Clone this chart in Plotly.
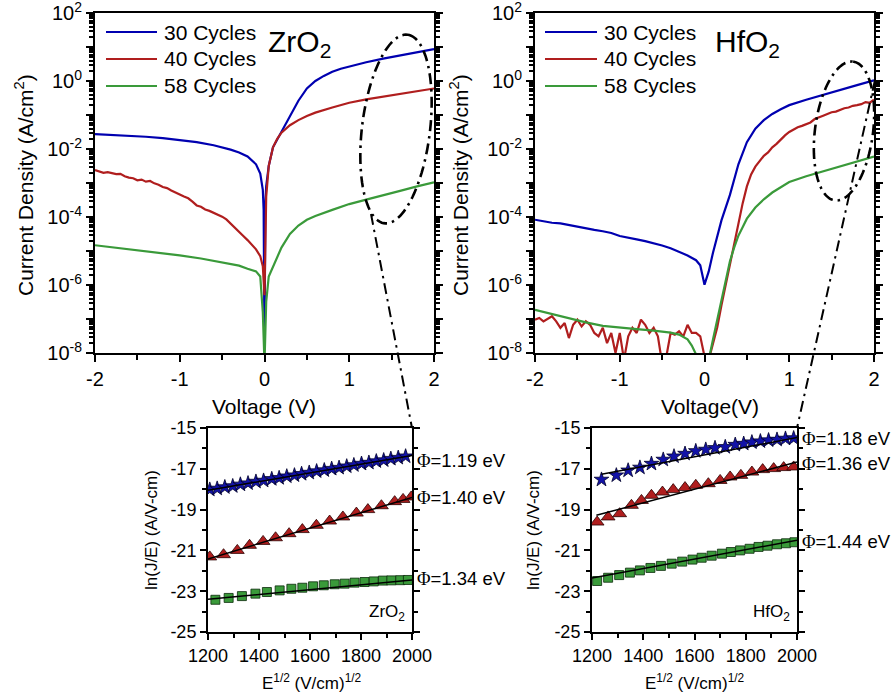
import numpy as np
import plotly.graph_objects as go

W, H = 896, 698
FONT = "Liberation Sans, Arial, sans-serif"

# ---------------- J-V curves: voltage (V) and log10 J (A/cm^2) ----------------
# ZrO2
zr30_v = [-2.0, -1.8, -1.6, -1.4, -1.2, -1.0, -0.8, -0.6, -0.5, -0.4, -0.3, -0.2, -0.1, -0.05,
          -0.02, -0.01, 0.0, 0.01, 0.02, 0.05, 0.1, 0.15, 0.2, 0.3, 0.4, 0.5, 0.6, 0.7, 0.8, 0.9,
          1.0, 1.2, 1.4, 1.6, 1.8, 2.0]
zr30_logj = [-1.56, -1.58, -1.61, -1.64, -1.68, -1.74, -1.80, -1.89, -1.95, -2.02, -2.10, -2.22,
             -2.45, -2.72, -3.2, -3.8, -7.9, -3.6, -3.1, -2.5, -1.95, -1.72, -1.5, -1.05, -0.58,
             -0.22, 0.0, 0.15, 0.27, 0.36, 0.43, 0.55, 0.66, 0.76, 0.85, 0.94]

zr40_v = [-2.0, -1.95, -1.9, -1.85, -1.8, -1.75, -1.7, -1.65, -1.6, -1.55, -1.5, -1.45, -1.4,
          -1.35, -1.3, -1.25, -1.2, -1.15, -1.1, -1.05, -1.0, -0.95, -0.9, -0.85, -0.8, -0.75,
          -0.7, -0.65, -0.6, -0.55, -0.5, -0.45, -0.4, -0.35, -0.3, -0.25, -0.2, -0.15, -0.1,
          -0.05, -0.02, 0.0, 0.01, 0.02, 0.05, 0.1, 0.15, 0.2, 0.3, 0.4, 0.5, 0.6, 0.8, 1.0,
          1.2, 1.4, 1.6, 1.8, 2.0]
zr40_logj = [-2.62, -2.66, -2.70, -2.68, -2.72, -2.74, -2.73, -2.80, -2.84, -2.86, -2.92, -2.90,
             -2.96, -2.94, -3.01, -3.05, -3.12, -3.15, -3.22, -3.27, -3.34, -3.40, -3.45, -3.55,
             -3.66, -3.70, -3.78, -3.82, -3.88, -3.92, -3.99, -4.07, -4.20, -4.30, -4.46, -4.56,
             -4.68, -4.82, -4.95, -5.15, -5.45, -6.30, -4.6, -3.4, -2.5, -1.95, -1.7, -1.52,
             -1.3, -1.15, -1.03, -0.93, -0.78, -0.64, -0.54, -0.46, -0.38, -0.30, -0.22]

zr58_v = [-2.0, -1.5, -1.0, -0.75, -0.5, -0.3, -0.2, -0.1, -0.05, -0.02, 0.0, 0.02, 0.05, 0.1,
          0.15, 0.2, 0.3, 0.4, 0.5, 0.6, 0.8, 1.0, 1.2, 1.4, 1.6, 1.8, 2.0]
zr58_logj = [-4.83, -4.97, -5.13, -5.22, -5.33, -5.43, -5.52, -5.60, -5.75, -6.8, -8.3, -6.5,
             -5.75, -5.45, -5.15, -4.9, -4.5, -4.25, -4.08, -3.97, -3.79, -3.62, -3.49, -3.37,
             -3.23, -3.10, -2.98]

# HfO2
hf30_v = [-2.0, -1.9, -1.8, -1.7, -1.6, -1.5, -1.4, -1.3, -1.2, -1.1, -1.0, -0.9, -0.8, -0.7,
          -0.6, -0.5, -0.4, -0.3, -0.2, -0.1, -0.05, 0.0, 0.05, 0.1, 0.15, 0.2, 0.3, 0.4, 0.5,
          0.6, 0.7, 0.8, 0.9, 1.0, 1.2, 1.4, 1.6, 1.8, 2.0]
hf30_logj = [-4.08, -4.13, -4.17, -4.19, -4.24, -4.30, -4.33, -4.38, -4.42, -4.47, -4.56, -4.60,
             -4.66, -4.71, -4.77, -4.84, -4.92, -5.02, -5.13, -5.27, -5.42, -5.99, -5.6, -5.05,
             -4.6, -4.1, -3.35, -2.45, -1.8, -1.4, -1.15, -0.97, -0.83, -0.71, -0.55, -0.40,
             -0.26, -0.12, 0.02]

hf40_v = [-2.0, -1.95, -1.9, -1.85, -1.8, -1.75, -1.7, -1.65, -1.6, -1.55, -1.5, -1.45, -1.4,
          -1.35, -1.3, -1.25, -1.2, -1.15, -1.1, -1.05, -1.0, -0.95, -0.9, -0.85, -0.8, -0.75,
          -0.7, -0.65, -0.6, -0.55, -0.5, -0.45, -0.4, -0.35, -0.3, -0.25, -0.2, -0.15, -0.1,
          -0.05, 0.0, 0.05, 0.1, 0.15, 0.2, 0.25, 0.3, 0.35, 0.4, 0.45, 0.5, 0.55, 0.6, 0.65,
          0.7, 0.75, 0.8, 0.85, 0.9, 0.95, 1.0, 1.05, 1.1, 1.15, 1.2, 1.25, 1.3, 1.35, 1.4, 1.45,
          1.5, 1.55, 1.6, 1.65, 1.7, 1.75, 1.8, 1.85, 1.9, 1.95, 2.0]
hf40_logj = [-7.02, -6.97, -7.07, -7.00, -6.92, -7.07, -7.26, -7.12, -7.56, -7.17, -7.02, -7.22,
             -7.07, -7.17, -7.41, -7.51, -7.26, -7.71, -7.41, -8.00, -7.41, -8.20, -7.51, -7.26,
             -7.41, -7.02, -7.17, -7.41, -7.26, -7.51, -8.30, -8.10, -7.41, -7.46, -7.36, -7.51,
             -7.17, -7.41, -7.41, -7.51, -8.10, -8.20, -7.75, -7.25, -6.6, -6.0, -5.4, -4.75,
             -4.15, -3.6, -3.1, -2.75, -2.52, -2.36, -2.2, -2.1, -1.95, -1.85, -1.72, -1.6, -1.5,
             -1.42, -1.36, -1.32, -1.26, -1.22, -1.12, -1.08, -1.02, -0.97, -0.92, -0.90, -0.84,
             -0.80, -0.78, -0.73, -0.71, -0.68, -0.62, -0.64, -0.55]

hf58_v = [-2.0, -1.8, -1.6, -1.4, -1.2, -1.0, -0.8, -0.6, -0.4, -0.3, -0.2, -0.15, -0.1, -0.05,
          0.0, 0.05, 0.1, 0.2, 0.3, 0.35, 0.4, 0.45, 0.5, 0.6, 0.7, 0.8, 0.9, 1.0, 1.2, 1.4,
          1.6, 1.8, 2.0]
hf58_logj = [-6.73, -6.86, -6.98, -7.10, -7.20, -7.26, -7.30, -7.34, -7.40, -7.46, -7.60, -7.78,
             -8.05, -8.3, -8.5, -8.2, -7.6, -6.45, -5.3, -4.9, -4.55, -4.3, -4.05, -3.72, -3.48,
             -3.28, -3.12, -2.97, -2.80, -2.66, -2.52, -2.38, -2.22]

# ---------------- Schottky plots: E^1/2 vs ln(J/E) ----------------
zr_star_x = [1207, 1236, 1266, 1297, 1327, 1357, 1388, 1418, 1450, 1479, 1509, 1539, 1567, 1597,
             1626, 1656, 1685, 1714, 1744, 1772, 1802, 1831, 1860, 1889, 1917, 1946, 1975]
zr_star_y = [-18.02, -17.97, -17.90, -17.85, -17.77, -17.71, -17.63, -17.58, -17.50, -17.45,
             -17.37, -17.32, -17.25, -17.19, -17.12, -17.07, -17.00, -16.95, -16.88, -16.82,
             -16.75, -16.70, -16.63, -16.58, -16.51, -16.46, -16.39]
zr_tri_x = [1207, 1261, 1315, 1363, 1416, 1465, 1518, 1570, 1625, 1677, 1729, 1782, 1827, 1880,
            1932, 1965, 1997]
zr_tri_y = [-21.32, -21.21, -21.00, -20.75, -20.56, -20.38, -20.18, -19.98, -19.77, -19.56,
            -19.36, -19.17, -19.00, -18.81, -18.61, -18.50, -18.38]
zr_sq_x = [1229, 1281, 1333, 1386, 1431, 1481, 1527, 1570, 1612, 1654, 1697, 1736, 1775, 1814,
           1850, 1886, 1919, 1954, 1984]
zr_sq_y = [-23.42, -23.33, -23.24, -23.12, -23.04, -22.96, -22.88, -22.83, -22.76, -22.71,
           -22.66, -22.63, -22.58, -22.55, -22.52, -22.48, -22.47, -22.46, -22.45]

hf_star_x = [1237, 1295, 1341, 1387, 1432, 1478, 1520, 1563, 1605, 1644, 1680, 1720, 1759, 1792,
             1824, 1857, 1889, 1922, 1955, 1987]
hf_star_y = [-17.53, -17.32, -17.08, -16.94, -16.75, -16.55, -16.39, -16.26, -16.13, -16.06,
             -15.98, -15.93, -15.82, -15.77, -15.70, -15.65, -15.60, -15.57, -15.52, -15.50]
hf_tri_x = [1220, 1263, 1308, 1354, 1393, 1432, 1475, 1517, 1563, 1605, 1654, 1700, 1739, 1781,
            1824, 1866, 1909, 1948, 1987]
hf_tri_y = [-19.61, -19.36, -19.20, -18.79, -18.55, -18.30, -18.14, -18.02, -17.92, -17.81,
            -17.73, -17.57, -17.40, -17.32, -17.16, -17.04, -16.99, -16.94, -16.91]
hf_sq_x = [1220, 1263, 1306, 1348, 1387, 1428, 1469, 1511, 1552, 1592, 1628, 1667, 1707, 1742,
           1778, 1815, 1850, 1885, 1922, 1957, 1990]
hf_sq_y = [-22.50, -22.34, -22.21, -22.09, -21.98, -21.86, -21.76, -21.65, -21.55, -21.45,
           -21.36, -21.26, -21.16, -21.08, -21.00, -20.92, -20.83, -20.77, -20.70, -20.65, -20.60]

# Linear Schottky fits (end points)
zr_fit_x = {"star": [1200, 2000], "tri": [1200, 2000], "sq": [1200, 2000]}
zr_fit_y = {"star": [-18.05, -16.35], "tri": [-21.42, -18.40], "sq": [-23.40, -22.45]}
hf_fit_x = {"star": [1237, 2000], "tri": [1217, 2000], "sq": [1200, 2000]}
hf_fit_y = {"star": [-17.27, -15.47], "tri": [-19.28, -16.67], "sq": [-22.35, -20.50]}

barrier_zr = ["1.19", "1.40", "1.34"]
barrier_hf = ["1.18", "1.36", "1.44"]
cycle_labels = ["30 Cycles", "40 Cycles", "58 Cycles"]

BLUE, RED, GREEN = "#0000b0", "#b01e1e", "#3a9a3a"
SERIES_COLORS = [BLUE, RED, GREEN]


def px(x):
    return x / W


def py(y):
    return 1 - y / H


fig = go.Figure()

# ---- J-V traces ----
for (v, lj, col, name, xa, ya) in [
    (zr30_v, zr30_logj, BLUE, cycle_labels[0], "x", "y"),
    (zr40_v, zr40_logj, RED, cycle_labels[1], "x", "y"),
    (zr58_v, zr58_logj, GREEN, cycle_labels[2], "x", "y"),
    (hf30_v, hf30_logj, BLUE, cycle_labels[0], "x2", "y2"),
    (hf40_v, hf40_logj, RED, cycle_labels[1], "x2", "y2"),
    (hf58_v, hf58_logj, GREEN, cycle_labels[2], "x2", "y2"),
]:
    fig.add_trace(go.Scatter(
        x=v, y=[10 ** val for val in lj], mode="lines", name=name,
        line=dict(color=col, width=2.2), xaxis=xa, yaxis=ya, showlegend=False))

# ---- Schottky traces ----
marker_specs = {
    "star": dict(symbol="star", size=11, color="#1212a8", line=dict(color="#00002a", width=0.8)),
    "tri": dict(symbol="triangle-up", size=12, color="#b01e1e", line=dict(color="#2a0000", width=0.8)),
    "sq": dict(symbol="square", size=9, color="#3a9a3a", line=dict(color="#0a2a0a", width=0.8)),
}
for xa, ya, pts, fx, fy in [
    ("x3", "y3", {"star": (zr_star_x, zr_star_y), "tri": (zr_tri_x, zr_tri_y), "sq": (zr_sq_x, zr_sq_y)},
     zr_fit_x, zr_fit_y),
    ("x4", "y4", {"star": (hf_star_x, hf_star_y), "tri": (hf_tri_x, hf_tri_y), "sq": (hf_sq_x, hf_sq_y)},
     hf_fit_x, hf_fit_y),
]:
    for key, (xs, ys) in pts.items():
        fig.add_trace(go.Scatter(x=xs, y=ys, mode="markers", marker=marker_specs[key],
                                 xaxis=xa, yaxis=ya, showlegend=False))
    for key in ["star", "tri", "sq"]:
        fig.add_trace(go.Scatter(x=fx[key], y=fy[key], mode="lines",
                                 line=dict(color="black", width=1.5),
                                 xaxis=xa, yaxis=ya, showlegend=False))

# ---- Axes ----
decades = list(range(-8, 3))
log_vals = [10.0 ** d for d in decades]
log_text = [f"10<sup>{d}</sup>" if d % 2 == 0 else "" for d in decades]
log_minor = [k * 10.0 ** d for d in range(-8, 2) for k in range(2, 10)]

axis_common = dict(showline=True, linecolor="black", linewidth=2, ticks="outside",
                   tickcolor="black", tickwidth=2, showgrid=False, zeroline=False,
                   automargin=False, ticklabeloverflow="allow")

jv_x = dict(axis_common, range=[-2, 2], tickvals=[-2, -1, 0, 1, 2],
            ticktext=["-2", "-1", "0", "1", "2"], ticklen=7, mirror=True,
            tickfont=dict(size=20, family=FONT, color="black"),
            minor=dict(tickvals=[-1.5, -0.5, 0.5, 1.5], ticks="outside", ticklen=5,
                       tickwidth=2, tickcolor="black"))
jv_y = dict(axis_common, type="log", range=[-8, 2], tickvals=log_vals, ticktext=log_text,
            ticklen=7, mirror="ticks", tickfont=dict(size=20, family=FONT, color="black"),
            minor=dict(tickvals=log_minor, ticks="outside", ticklen=4, tickwidth=1.5,
                       tickcolor="black"))

sch_x = dict(axis_common, range=[1200, 2000], tickvals=[1200, 1400, 1600, 1800, 2000],
             ticklen=6, mirror=True, tickfont=dict(size=18, family=FONT, color="black"),
             minor=dict(tickvals=[1300, 1500, 1700, 1900], ticks="outside", ticklen=4,
                        tickwidth=1.5, tickcolor="black"))
sch_y = dict(axis_common, range=[-25, -15], tickvals=[-25, -23, -21, -19, -17, -15],
             ticktext=["-25", "-23", "-21", "-19", "-17", "-15"], ticklen=6, mirror="ticks",
             tickfont=dict(size=18, family=FONT, color="black"),
             minor=dict(tickvals=[-24, -22, -20, -18, -16], ticks="outside", ticklen=4,
                        tickwidth=1.5, tickcolor="black"))

top_y = [py(353), py(13)]
ins_y = [py(632), py(428)]

fig.update_layout(
    xaxis=dict(jv_x, domain=[px(95), px(434)], anchor="y"),
    yaxis=dict(jv_y, domain=top_y, anchor="x"),
    xaxis2=dict(jv_x, domain=[px(535), px(874)], anchor="y2"),
    yaxis2=dict(jv_y, domain=top_y, anchor="x2"),
    xaxis3=dict(sch_x, domain=[px(208), px(412)], anchor="y3"),
    yaxis3=dict(sch_y, domain=ins_y, anchor="x3"),
    xaxis4=dict(sch_x, domain=[px(592), px(797)], anchor="y4"),
    yaxis4=dict(sch_y, domain=ins_y, anchor="x4"),
)

# ---- Text annotations ----
ann = []


def text(x, y, s, size, xanchor="center", yanchor="middle", angle=0):
    ann.append(dict(x=px(x), y=py(y), xref="paper", yref="paper", text=s, showarrow=False,
                    xanchor=xanchor, yanchor=yanchor, textangle=angle,
                    font=dict(size=size, family=FONT, color="black")))


text(264, 407, "Voltage (V)", 21)
text(710, 407, "Voltage(V)", 21)
text(24, 185, "Current Density (A/cm<sup>2</sup>)", 21, angle=-90)
text(459, 185, "Current Density (A/cm<sup>2</sup>)", 21, angle=-90)
text(266, 44, "ZrO<sub>2</sub>", 30, xanchor="left")
text(713, 44, "HfO<sub>2</sub>", 30, xanchor="left")

text(312, 682, "E<sup>1/2</sup> (V/cm)<sup>1/2</sup>", 17)
text(695, 682, "E<sup>1/2</sup> (V/cm)<sup>1/2</sup>", 17)
text(151, 530, "ln(J/E) (A/V-cm)", 17, angle=-90)
text(533, 530, "ln(J/E) (A/V-cm)", 17, angle=-90)
text(407, 613, "ZrO<sub>2</sub>", 17, xanchor="right")
text(792, 613, "HfO<sub>2</sub>", 17, xanchor="right")

PHI = '<span style="font-family:Liberation Serif">\u03a6</span>'
for yy, val in zip([460, 497, 578], barrier_zr):
    text(415, yy, f"{PHI}={val} eV", 18.5, xanchor="left")
for yy, val in zip([438, 463, 541], barrier_hf):
    text(800, yy, f"{PHI}={val} eV", 18.5, xanchor="left")

# ---- Legend keys (one block per J-V panel) ----
shapes = []
legend_rows = [32, 59, 86]
for x_line0, x_line1, x_text in [(106, 157, 162), (545, 597, 602)]:
    for yy, col, lab in zip(legend_rows, SERIES_COLORS, cycle_labels):
        shapes.append(dict(type="line", xref="paper", yref="paper",
                           x0=px(x_line0), x1=px(x_line1), y0=py(yy), y1=py(yy),
                           line=dict(color=col, width=2.2)))
        text(x_text, yy, lab, 21, xanchor="left")

fig.update_layout(annotations=ann)


# ---- Dash-dot zoom guides ----
def ellipse_path(cx, cy, a, b, tilt_deg, n=120):
    th = np.radians(tilt_deg)
    ux, uy = np.sin(th), -np.cos(th)
    vx, vy = np.cos(th), np.sin(th)
    t = np.linspace(0, 2 * np.pi, n)
    xs = cx + a * np.cos(t) * ux + b * np.sin(t) * vx
    ys = cy + a * np.cos(t) * uy + b * np.sin(t) * vy
    return "M " + " L ".join(f"{px(x):.5f},{py(y):.5f}" for x, y in zip(xs, ys)) + " Z"


DASH = "11px,5px,2.5px,5px"
shapes += [
    dict(type="path", xref="paper", yref="paper", path=ellipse_path(396, 129, 95, 34, 7),
         line=dict(color="black", width=2.6, dash=DASH), layer="above"),
    dict(type="path", xref="paper", yref="paper", path=ellipse_path(844, 131, 70, 29, 7.5),
         line=dict(color="black", width=2.6, dash=DASH), layer="above"),
    dict(type="line", xref="paper", yref="paper", x0=px(371), y0=py(214), x1=px(412), y1=py(428),
         line=dict(color="black", width=2, dash=DASH), layer="above"),
    dict(type="line", xref="paper", yref="paper", x0=px(875), y0=py(80), x1=px(797), y1=py(428),
         line=dict(color="black", width=2, dash=DASH), layer="above"),
]
fig.update_layout(shapes=shapes)

fig.update_layout(width=W, height=H, margin=dict(l=0, r=0, t=0, b=0),
                  paper_bgcolor="white", plot_bgcolor="white", showlegend=False,
                  font=dict(family=FONT, color="black"))

fig.write_html("out.html")
